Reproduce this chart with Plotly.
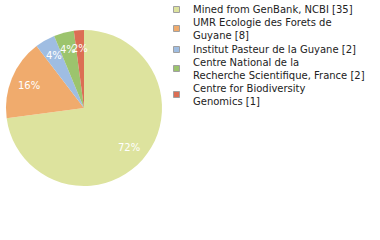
import math
import plotly.graph_objects as go

labels = ["Mined from GenBank, NCBI [35]",
          "UMR Ecologie des Forets de<br>Guyane [8]",
          "Institut Pasteur de la Guyane [2]",
          "Centre National de la<br>Recherche Scientifique, France [2]",
          "Centre for Biodiversity<br>Genomics [1]"]
values = [35, 8, 2, 2, 1]
pct_text = ["72%", "16%", "4%", "4%", "2%"]
colors = ["#dde39e", "#f0ab6d", "#9fbde2", "#9cc46d", "#dc6e54"]

W, H = 380, 240
CX, CY, R = 84, 108, 78  # pixel geometry of the pie
fig = go.Figure(go.Pie(
    labels=labels, values=values,
    textinfo="none",
    marker=dict(colors=colors, line=dict(width=0)),
    sort=False, direction="clockwise", rotation=0,
    domain=dict(x=[(CX - R) / W, (CX + R) / W],
                y=[1 - (CY + R) / H, 1 - (CY - R) / H]),
    hoverinfo="none", showlegend=False,
))

annotations = []
shapes = []
total = sum(values)
cum = 0
for v, t in zip(values, pct_text):
    mid = (cum + v / 2) / total * 2 * math.pi
    cum += v
    d = 0.77 * R
    px = CX + d * math.sin(mid)
    py = CY - d * math.cos(mid)
    annotations.append(dict(x=px / W, y=1 - py / H, xref="paper", yref="paper",
                            text=t, showarrow=False, xanchor="center", yanchor="middle",
                            font=dict(family="DejaVu Sans", size=10, color="white")))

item_centers = [9.5, 28.5, 49.5, 68.5, 94.5]
for lab, col, yc in zip(labels, colors, item_centers):
    shapes.append(dict(type="rect", xref="paper", yref="paper",
                       x0=173.5 / W, x1=179.5 / W,
                       y0=1 - (yc + 3) / H, y1=1 - (yc - 3) / H,
                       fillcolor=col, line=dict(color="#a0a0a0", width=1)))
    annotations.append(dict(x=191 / W, y=1 - yc / H, xref="paper", yref="paper",
                            text=lab, showarrow=False, xanchor="left", yanchor="middle",
                            align="left",
                            font=dict(family="DejaVu Sans", size=10, color="#222")))

fig.update_layout(
    width=W, height=H, margin=dict(l=0, r=0, t=0, b=0),
    paper_bgcolor="white", plot_bgcolor="white",
    showlegend=False, annotations=annotations, shapes=shapes,
)
fig.write_html("out.html")
